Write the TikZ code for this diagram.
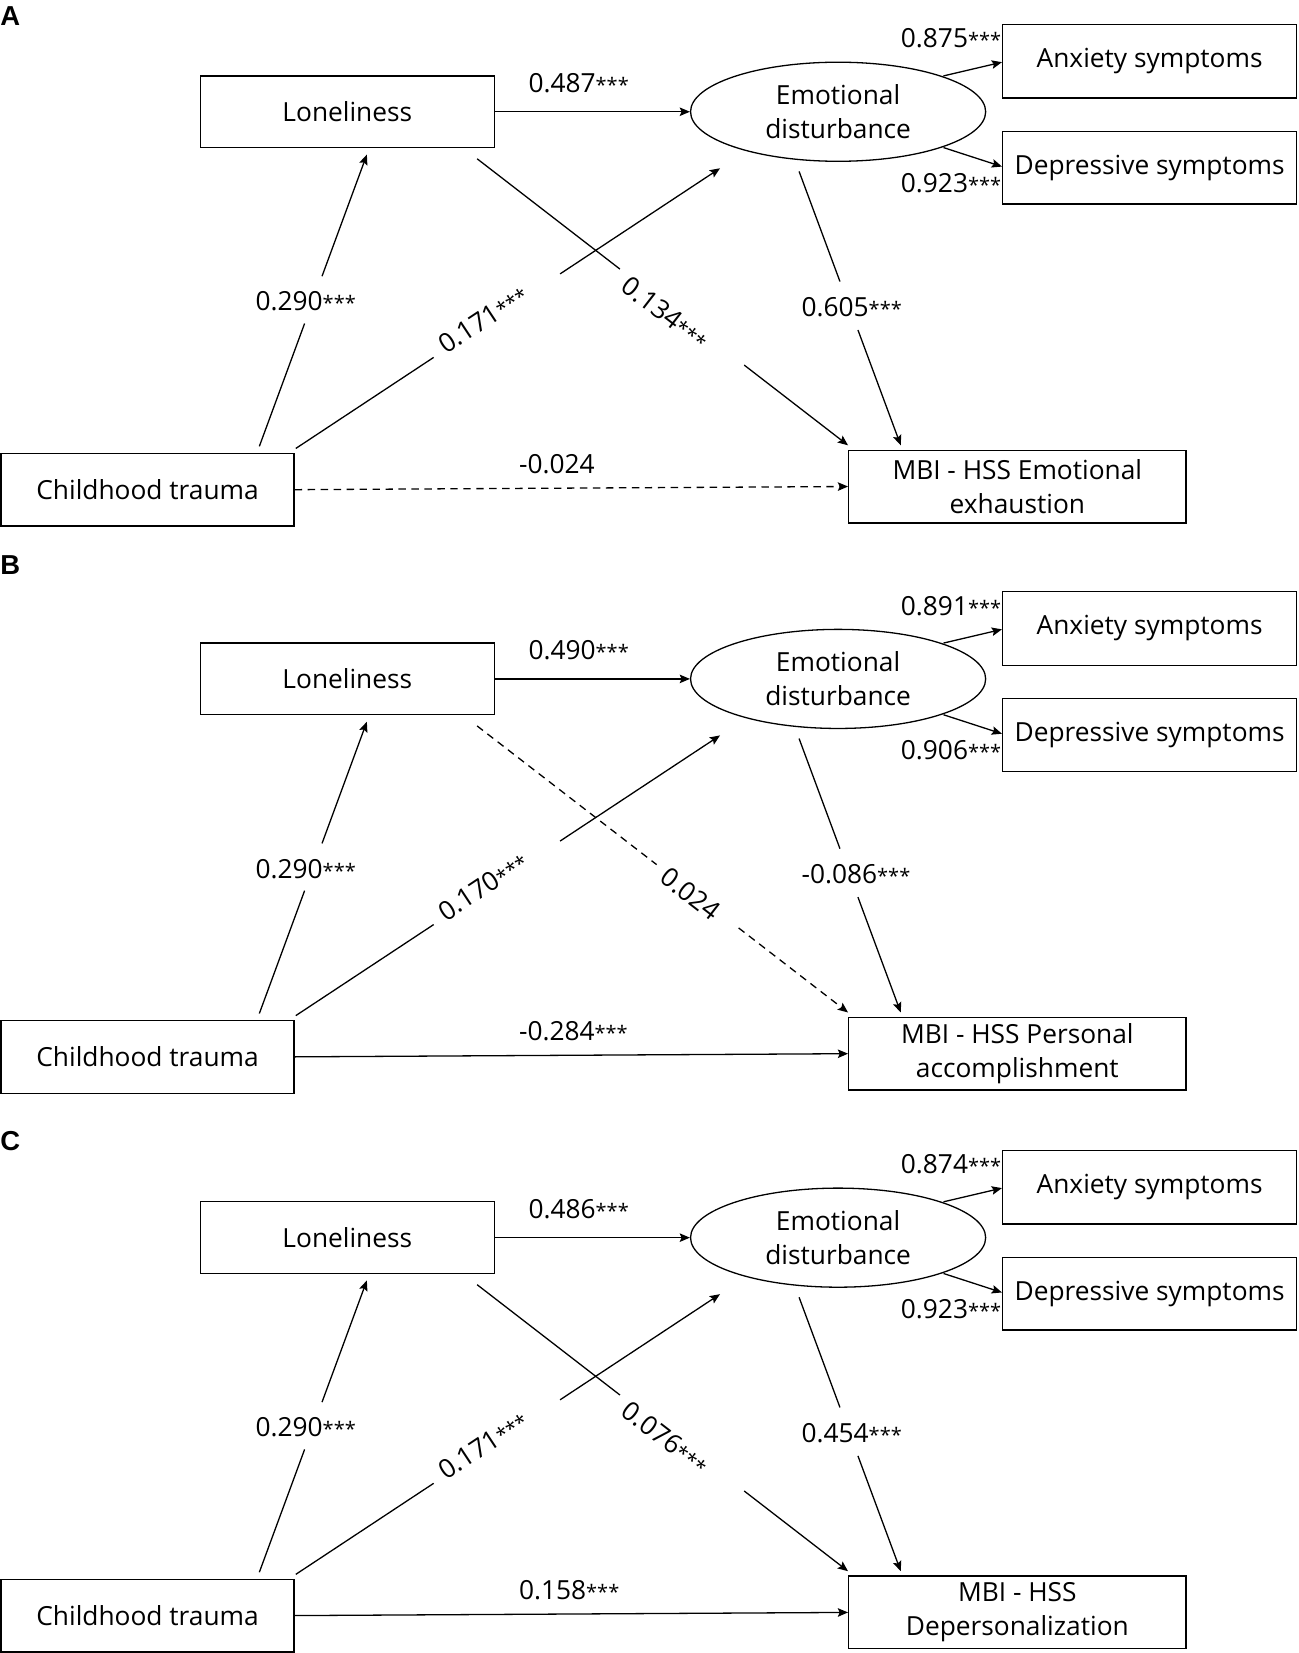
\documentclass[tikz,border=0pt]{standalone}
\usepackage{fontspec}
\setmainfont{Open Sans}
\newfontfamily\letterfont{Liberation Sans}
\usetikzlibrary{arrows.meta,shapes.geometric,calc}

\newcommand\sig{{\fontsize{10.8pt}{11pt}\selectfont***}}
\newcommand\mainsize{\fontsize{14.2pt}{18.2pt}\selectfont}

\tikzset{
  box/.style={draw, rectangle, line width=0.7pt, inner sep=0pt, align=center, font=\mainsize},
  ell/.style={draw, ellipse, line width=0.7pt, minimum width=5.6cm, minimum height=1.88cm, inner sep=0pt, align=center, font=\mainsize},
  lab/.style={inner sep=0pt, font=\mainsize},
  letter/.style={inner sep=0pt, anchor=west, font=\letterfont\bfseries\fontsize{14.8pt}{16pt}\selectfont},
  conn/.style={line width=0.7pt},
  dsh/.style={dash pattern=on 4pt off 3pt},
}

% #1 offset, #2 letter, #3 MBI text, #4 lon->ed, #5 anx, #6 dep, #7 ct->ed, #8 lon->mbi, #9 ed->mbi
\newcommand\panel[9]{%
  \node[box, minimum width=5.58cm, minimum height=1.36cm] (lon#2) at (329.5,{106+#1}) {Loneliness};
  \node[ell] (ed#2) at (795,{106+#1}) {Emotional\\disturbance};
  \node[box, minimum width=5.58cm, minimum height=1.4cm] (anx#2) at (1090.5,{58+#1}) {Anxiety symptoms};
  \node[box, minimum width=5.58cm, minimum height=1.38cm] (dep#2) at (1090.5,{159+#1}) {Depressive symptoms};
  \node[box, minimum width=5.56cm, minimum height=1.38cm] (ct#2) at (140,{464.5+#1}) {Childhood trauma};
  \node[box, minimum width=6.4cm, minimum height=1.38cm] (mbi#2) at (965,{461.5+#1}) {#3};
  % end points
  \coordinate (s1#2) at ($(ct#2.north)+(106,-6)$);
  \coordinate (e1#2) at ($(lon#2.south)+(18.5,6)$);
  \coordinate (s2#2) at ($(ct#2.north east)+(1,-4)$);
  \coordinate (e2#2) at ($(ed#2.south)+(-112,6)$);
  \coordinate (s3#2) at ($(lon#2.south east)+(-17,10)$);
  \coordinate (e3#2) at ($(mbi#2.north west)+(0,-4)$);
  \coordinate (s4#2) at ($(ed#2.south)+(-37,9)$);
  \coordinate (e4#2) at ($(mbi#2.north west)+(50,-4)$);
  % connectors
  \draw[conn,->] (lon#2.east) -- (ed#2.west);
  \draw[conn,->] ($(ed#2.center)+(100,-34)$) -- ($(anx#2.west)+(0,1)$);
  \draw[conn,->] ($(ed#2.center)+(100,34)$) -- ($(dep#2.west)+(0,-1)$);
  \draw[conn] (s1#2) -- ($(s1#2)!0.421!(e1#2)$);
  \draw[conn,->] ($(s1#2)!0.583!(e1#2)$) -- (e1#2);
  \draw[conn] (s2#2) -- ($(s2#2)!0.325!(e2#2)$);
  \draw[conn,->] ($(s2#2)!0.623!(e2#2)$) -- (e2#2);
  \draw[conn,lmline] (s3#2) -- ($(s3#2)!\lmtone!(e3#2)$);
  \draw[conn,lmline,->] ($(s3#2)!\lmttwo!(e3#2)$) -- (e3#2);
  \draw[conn] (s4#2) -- ($(s4#2)!0.402!(e4#2)$);
  \draw[conn,->] ($(s4#2)!0.579!(e4#2)$) -- (e4#2);
  \draw[conn,cmline,->] (ct#2.east) -- (mbi#2.west);
  % labels
  \node[lab, anchor=west] (la#2) at (501,{79+#1}) {#4};
  \node[lab, anchor=east] (lb#2) at (950,{36.5+#1}) {#5};
  \node[lab, anchor=east] (lc#2) at (950,{174+#1}) {#6};
  \node[lab] (ld#2) at (290,{286+#1}) {0.290\sig};
  \node[lab, rotate=33.5] (le#2) at (458,{303+#1}) {#7};
  \node[lab, rotate=-37.7] (lf#2) at (\lmx,{\lmy+#1}) {#8};
  \node[lab, anchor=west] (lg#2) at (760,{291+#1}) {#9};
  \node[lab, anchor=west] (lh#2) at (492,{440+#1}) {\ctmbilab};
}

\begin{document}
\begin{tikzpicture}[x=0.02cm,y=-0.02cm,
  >={Stealth[length=5.5pt,width=4.6pt,inset=1pt]}]
\useasboundingbox (0,0) rectangle (1232,1568);

\node[letter] (pA) at (0,15) {A};
\node[letter] (pB) at (0,536) {B};
\node[letter] (pC) at (0,1082) {C};

% Panel A
\def\lmtone{0.385}\def\lmttwo{0.720}\def\lmx{631}\def\lmy{297}
\def\ctmbilab{-0.024}
\tikzset{lmline/.style={}, cmline/.style={dsh}}
\panel{0}{A}{MBI - HSS Emotional\\exhaustion}{0.487\sig}{0.875\sig}{0.923\sig}{0.171\sig}{0.134\sig}{0.605\sig}

% Panel B
\def\lmtone{0.484}\def\lmttwo{0.705}\def\lmx{655}\def\lmy{310}
\def\ctmbilab{-0.284\sig}
\tikzset{lmline/.style={dsh}, cmline/.style={}}
\panel{538}{B}{MBI - HSS Personal\\accomplishment}{0.490\sig}{0.891\sig}{0.906\sig}{0.170\sig}{0.024}{-0.086\sig}

% Panel C
\def\lmtone{0.385}\def\lmttwo{0.720}\def\lmx{631}\def\lmy{296}
\def\ctmbilab{0.158\sig}
\tikzset{lmline/.style={}, cmline/.style={}}
\panel{1068}{C}{MBI - HSS\\Depersonalization}{0.486\sig}{0.874\sig}{0.923\sig}{0.171\sig}{0.076\sig}{0.454\sig}

\end{tikzpicture}
\end{document}
